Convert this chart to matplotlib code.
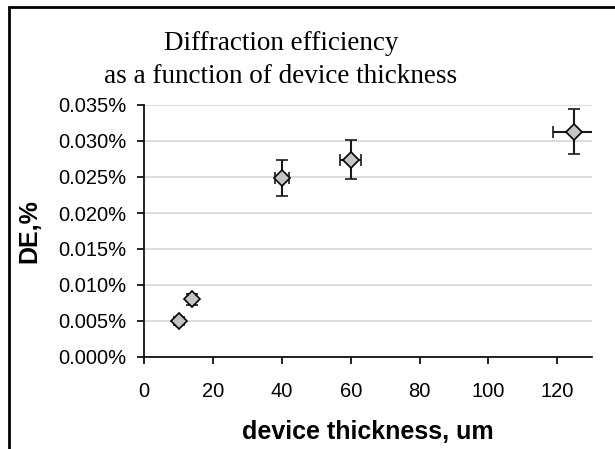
import matplotlib
matplotlib.use("Agg")
import matplotlib.pyplot as plt
from matplotlib.patches import Rectangle
from matplotlib.ticker import FuncFormatter, MultipleLocator

# data
thickness = [10, 14, 40, 60, 125]            # um
de_pct = [0.0050, 0.0080, 0.0249, 0.0274, 0.0313]   # DE, %
thickness_err = [0.5, 0.7, 2.0, 3.0, 6.25]
de_err = [0.0005, 0.0008, 0.0025, 0.00274, 0.00313]

title_lines = ["Diffraction efficiency", "as a function of device thickness"]
x_label = "device thickness, um"
y_label = "DE,%"

W, H = 615, 449
fig = plt.figure(figsize=(W / 100, H / 100), dpi=100)
ax = fig.add_axes([144.3 / W, 92 / H, (591.7 - 144.3) / W, (357 - 105) / H])

# outer chart frame (cropped on the right and bottom)
fig.add_artist(Rectangle((9 / W, -0.2), 1.5, 1.2 - 6.5 / H, transform=fig.transFigure,
                         fill=False, lw=2, ec="black"))

ax.errorbar(thickness, de_pct, xerr=thickness_err, yerr=de_err, fmt="D", ms=8,
            mfc="#c4c4c4", mec="black", mew=1.2, ecolor="#1a1a1a",
            elinewidth=1.5, capsize=4, capthick=1.5, zorder=3)

ax.set_xlim(0, 130)
ax.set_ylim(0, 0.035)
ax.set_xticks(range(0, 121, 20))
ax.yaxis.set_major_locator(MultipleLocator(0.005))
ax.yaxis.set_major_formatter(FuncFormatter(lambda v, p: f"{v:.3f}%"))

ax.grid(axis="y", color="#d9d9d9", lw=1.3)
ax.set_axisbelow(True)
for s in ("top", "right"):
    ax.spines[s].set_visible(False)
for s in ("left", "bottom"):
    ax.spines[s].set_linewidth(1.3)
    ax.spines[s].set_color("#111111")

ax.tick_params(direction="out", length=5, width=1.3, color="#111111",
               labelsize=14.5)
ax.tick_params(axis="x", pad=13)
ax.tick_params(axis="y", pad=8)
for lab in ax.get_xticklabels() + ax.get_yticklabels():
    lab.set_family("Liberation Sans")

ax.set_xlabel(x_label, family="Liberation Sans", fontsize=18, fontweight="bold", labelpad=13.5)
ax.set_ylabel(y_label, family="Liberation Sans", fontsize=18, fontweight="bold", labelpad=12)

fig.text(281 / W, 1 - 50 / H, title_lines[0], ha="center", va="baseline",
         family="Liberation Serif", fontsize=19.5)
fig.text(281 / W, 1 - 83 / H, title_lines[1], ha="center", va="baseline",
         family="Liberation Serif", fontsize=19.5)

fig.savefig("out.png", dpi=100)
